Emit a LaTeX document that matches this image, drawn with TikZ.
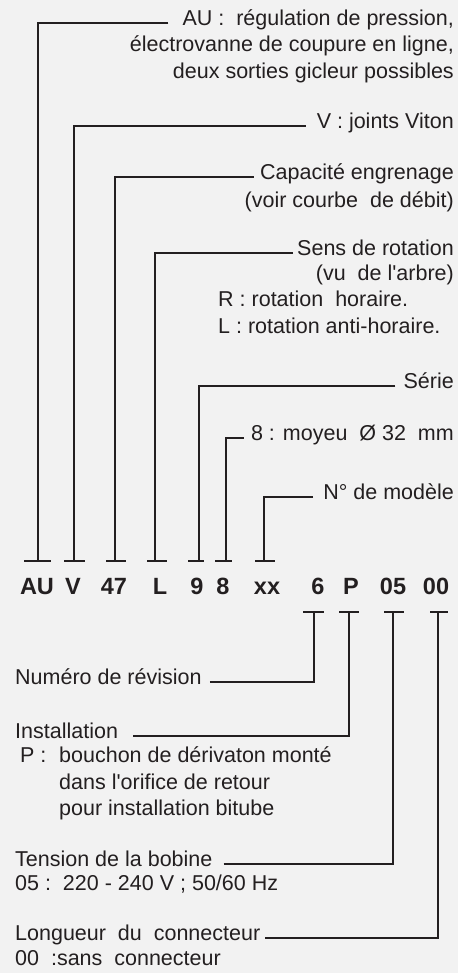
\documentclass[tikz,border=0pt]{standalone}
\usepackage{fontspec}
\setmainfont{Liberation Sans}[Ligatures=TeXOff]
\definecolor{bgc}{HTML}{F2F2F2}
\definecolor{inkc}{HTML}{231F20}
\begin{document}
\begin{tikzpicture}[x=1pt,y=-1pt,
  ink/.style={draw=inkc, line width=2.4pt},
  lbl/.style={inner sep=0pt, font=\fontsize{21.5}{26}\selectfont, text=inkc},
  rl/.style={lbl, anchor=mid east},
  ll/.style={lbl, anchor=mid west},
  code/.style={inner sep=0pt, anchor=base, font=\bfseries\fontsize{23.5}{28}\selectfont, text=inkc}]
\fill[bgc] (0,0) rectangle (458,973);
\useasboundingbox (0,0) rectangle (458,973);

% right-side labels
\node[rl] (tAU1) at (454,23) {AU :\ \ régulation de pression,};
\node[rl] (tAU2) at (454,49) {électrovanne de coupure en ligne,};
\node[rl] (tAU3) at (454,76) {deux sorties gicleur possibles};
\node[rl] (tV) at (454,126) {V : joints Viton};
\node[rl] (tCap1) at (454,177) {Capacité engrenage};
\node[rl] (tCap2) at (454,205) {(voir courbe\ \ de débit)};
\node[rl] (tSens1) at (454,253) {Sens de rotation};
\node[rl] (tSens2) at (454,278) {(vu\ \ de l'arbre)};
\node[ll] (tR) at (218,304) {R : rotation\ \ horaire.};
\node[ll] (tL) at (218,331) {L : rotation anti-horaire.};
\node[rl] (tSerie) at (454,386) {Série};
\node[rl] (t8) at (454,438) {8 : moyeu\ \ Ø 32\ \ mm};
\node[rl] (tN) at (454,497) {N° de modèle};

% code
\node[code] (cAU) at (37,594) {AU};
\node[code] (cV) at (73,594) {V};
\node[code] (c47) at (114,594) {47};
\node[code] (cL) at (160,594) {L};
\node[code] (c9) at (197,594) {9};
\node[code] (c8) at (223,594) {8};
\node[code] (cxx) at (267,594) {xx};
\node[code] (c6) at (318,594) {6};
\node[code] (cP) at (351,594) {P};
\node[code] (c05) at (393,594) {05};
\node[code] (c00) at (436,594) {00};

% bar anchors
\coordinate (bAU) at (38,561);
\coordinate (bV) at (74,561);
\coordinate (b47) at (115,561);
\coordinate (bL) at (155,561);
\coordinate (b9) at (199,561);
\coordinate (b8) at (226,561);
\coordinate (bxx) at (264,561);
\coordinate (b6) at (314,612);
\coordinate (bP) at (349,612);
\coordinate (b05) at (393,612);
\coordinate (b00) at (438,612);

% left-side labels
\node[ll] (tNum) at (15,682) {Numéro de révision};
\node[ll] (tInst) at (15,736) {Installation};
\node[ll] (tP) at (20,760) {P :};
\node[ll] (tP1) at (59,760) {bouchon de dérivaton monté};
\node[ll] (tP2) at (59,787) {dans l'orifice de retour};
\node[ll] (tP3) at (59,813) {pour installation bitube};
\node[ll] (tTen) at (15,864) {Tension de la bobine};
\node[ll] (tTen2) at (15,888) {05 :\ \ 220 - 240 V ; 50/60 Hz};
\node[ll] (tLon) at (15,938) {Longueur\ \ du\ \ connecteur};
\node[ll] (tLon2) at (15,963) {00\ \ :sans\ \ connecteur};

% connectors (upper)
\draw[ink] ([xshift=-14pt]tAU1.mid west) -| (bAU);
\draw[ink] ([xshift=-11pt]tV.mid west) -| (bV);
\draw[ink] ([xshift=-6pt]tCap1.mid west) -| (b47);
\draw[ink] ([xshift=-4pt]tSens1.mid west) -| (bL);
\draw[ink] ([xshift=-8pt]tSerie.mid west) -| (b9);
\draw[ink] ([xshift=-7pt]t8.mid west) -| (b8);
\draw[ink] ([xshift=-10pt]tN.mid west) -| (bxx);

% connectors (lower)
\draw[ink] ([xshift=8pt]tNum.mid east) -| (b6);
\draw[ink] ([xshift=15pt]tInst.mid east) -| (bP);
\draw[ink] ([xshift=11pt]tTen.mid east) -| (b05);
\draw[ink] ([xshift=5pt]tLon.mid east) -| (b00);

% T bars
\draw[ink] ([xshift=-14pt]bAU) -- ([xshift=13pt]bAU);
\draw[ink] ([xshift=-10pt]bV) -- ([xshift=11pt]bV);
\draw[ink] ([xshift=-9pt]b47) -- ([xshift=11pt]b47);
\draw[ink] ([xshift=-8pt]bL) -- ([xshift=12pt]bL);
\draw[ink] ([xshift=-11pt]b9) -- ([xshift=5pt]b9);
\draw[ink] ([xshift=-11pt]b8) -- ([xshift=6pt]b8);
\draw[ink] ([xshift=-9pt]bxx) -- ([xshift=11pt]bxx);
\draw[ink] ([xshift=-11pt]b6) -- ([xshift=10pt]b6);
\draw[ink] ([xshift=-10pt]bP) -- ([xshift=10pt]bP);
\draw[ink] ([xshift=-9pt]b05) -- ([xshift=11pt]b05);
\draw[ink] ([xshift=-8pt]b00) -- ([xshift=10pt]b00);
\end{tikzpicture}
\end{document}
